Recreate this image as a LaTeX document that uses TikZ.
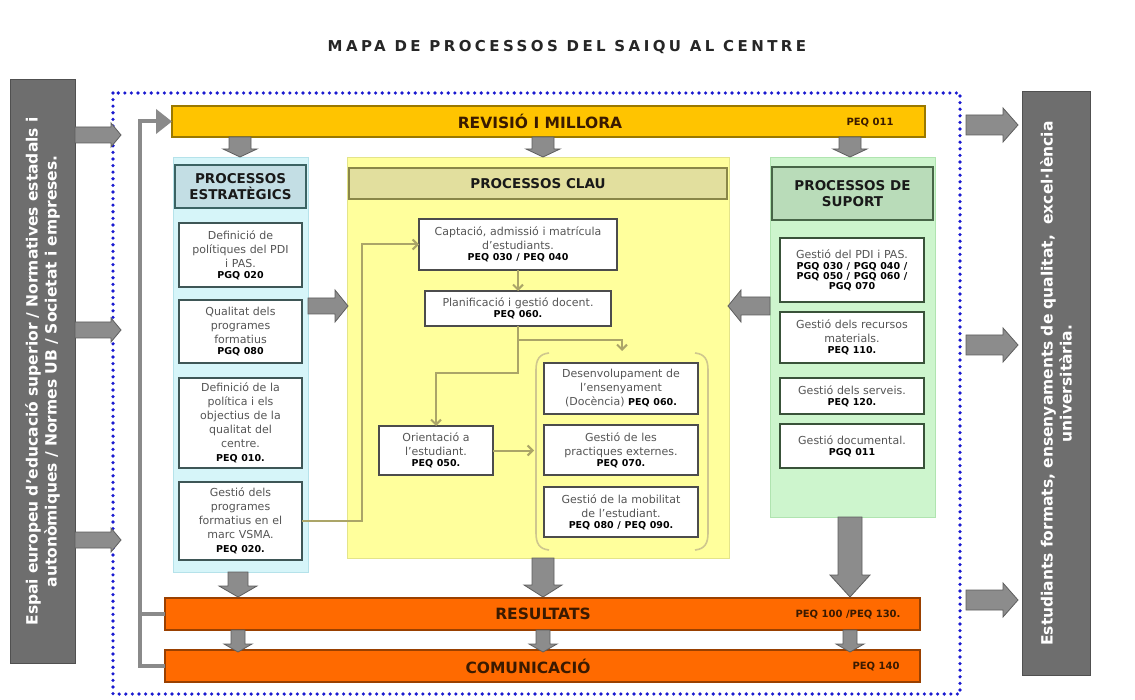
\documentclass[tikz,border=0pt]{standalone}
\usepackage{fontspec}
\setmainfont{DejaVu Sans}
\newfontfamily\titlefont[LetterSpace=23]{DejaVu Sans}
\usetikzlibrary{arrows.meta}
\definecolor{framblue}{HTML}{1A1AD0}
\definecolor{sidegray}{HTML}{6E6E6E}
\definecolor{sidedark}{HTML}{505050}
\definecolor{arrgray}{HTML}{8C8C8C}
\definecolor{arrdark}{HTML}{5E5E5E}
\definecolor{revfill}{HTML}{FFC400}
\definecolor{revdraw}{HTML}{9A7800}
\definecolor{resfill}{HTML}{FF6A00}
\definecolor{resdraw}{HTML}{9A4000}
\definecolor{bartext}{HTML}{3A1A00}
\definecolor{stratbg}{HTML}{D6F5F9}
\definecolor{stratbgd}{HTML}{B5E2EA}
\definecolor{strathd}{HTML}{C3DEE4}
\definecolor{stratdr}{HTML}{3B6363}
\definecolor{claubg}{HTML}{FFFF9C}
\definecolor{claubgd}{HTML}{E4E48A}
\definecolor{clauhd}{HTML}{E2DF9E}
\definecolor{claudr}{HTML}{8A8748}
\definecolor{supbg}{HTML}{CDF5CD}
\definecolor{supbgd}{HTML}{B0E4B0}
\definecolor{suphd}{HTML}{B9DCB9}
\definecolor{supdr}{HTML}{476647}
\definecolor{boxdr}{HTML}{3E5656}
\definecolor{boxtext}{HTML}{555555}
\definecolor{connol}{HTML}{ABA568}
\definecolor{brkol}{HTML}{CFC78E}
\definecolor{fbgray}{HTML}{8A8A8A}
\newcommand\pc[1]{{\fontsize{9.5}{11}\selectfont\bfseries\color{black}#1}}
% horizontal block arrow: x, y, length (signed), body half, head half, head length (signed)
\newcommand\hblk[6]{\filldraw[garr] (#1,#2) ++(0,-#4) -- ++({(#3)-(#6)},0) -- ++(0,{-(#5-#4)}) -- ++(#6,#5) -- ++({-(#6)},#5) -- ++(0,{-(#5-#4)}) -- ++({(#6)-(#3)},0) -- cycle;}
% vertical block arrow (downwards): x, y, length, body half, head half, head length
\newcommand\vblk[6]{\filldraw[garr] (#1,#2) ++(-#4,0) -- ++(0,{(#3)-(#6)}) -- ++({-(#5-#4)},0) -- ++(#5,#6) -- ++(#5,{-(#6)}) -- ++({-(#5-#4)},0) -- ++(0,{(#6)-(#3)}) -- cycle;}
\begin{document}
\begin{tikzpicture}[x=1pt,y=-1pt,
  garr/.style={fill=arrgray,draw=arrdark,line width=0.8pt},
  sidebar/.style={fill=sidegray,draw=sidedark,line width=1pt,text=white,font=\fontsize{15.5}{19}\selectfont\bfseries,align=center,inner sep=0pt,outer sep=0pt},
  revbar/.style={fill=revfill,draw=revdraw,line width=1.2pt,inner sep=0pt,outer sep=0pt},
  resbar/.style={fill=resfill,draw=resdraw,line width=1.2pt,inner sep=0pt,outer sep=0pt},
  barlbl/.style={text=bartext,font=\fontsize{15.5}{17}\selectfont\bfseries,inner sep=0pt},
  barcode/.style={text=bartext,font=\fontsize{10}{12}\selectfont\bfseries,inner sep=0pt},
  colbg/.style={line width=0.8pt,inner sep=0pt,outer sep=0pt},
  hdr/.style={line width=1.6pt,align=center,text=black!90,font=\fontsize{13.5}{16}\selectfont\bfseries,inner sep=0pt,outer sep=0pt},
  pbox/.style={fill=white,draw=boxdr,line width=1.4pt,align=center,text=boxtext,font=\fontsize{11}{14}\selectfont,inner sep=0pt,outer sep=0pt},
  conn/.style={draw=connol,line width=2pt},
  conntip/.style={conn,-{Straight Barb[length=5pt,width=10pt]}},
  brk/.style={draw=brkol,line width=1.6pt},
  fb/.style={draw=fbgray,line width=4pt},
  frame/.style={draw=framblue,line width=3.6pt,dash pattern=on 0pt off 6.6pt,line cap=round}
]
\useasboundingbox (0,0) rectangle (1135,700);

% title
\node[font=\titlefont\fontsize{15}{18}\selectfont\bfseries,text=black!85,inner sep=0pt] (title) at (567,47) {MAPA DE PROCESSOS DEL SAIQU AL CENTRE};

% dotted frame
\draw[frame] (113,93) rectangle (960,694);

% side bars
\node[sidebar,rotate=90,minimum width=583,minimum height=65,text width=575] (lbar) at (42.5,371.5)
  {Espai europeu d'educació superior / Normatives estadals i\\autonòmiques / Normes UB / Societat i empreses.};
\node[sidebar,rotate=90,minimum width=583,minimum height=68,text width=575] (rbar) at (1056,383.5)
  {Estudiants formats, ensenyaments de qualitat,\ \ excel·lència\\universitària.};

% column backgrounds
\node[colbg,fill=stratbg,draw=stratbgd,minimum width=135,minimum height=415] (stratbg) at (240.5,364.5) {};
\node[colbg,fill=claubg,draw=claubgd,minimum width=382,minimum height=401] (claubg) at (538,357.5) {};
\node[colbg,fill=supbg,draw=supbgd,minimum width=165,minimum height=360] (supbg) at (852.5,337) {};

% headers
\node[hdr,fill=strathd,draw=stratdr,minimum width=131,minimum height=43] (strathdr) at (240.5,186.5) {PROCESSOS\\ESTRATÈGICS};
\node[hdr,fill=clauhd,draw=claudr,minimum width=378,minimum height=31] (clauhdr) at (538,183.5) {PROCESSOS CLAU};
\node[hdr,fill=suphd,draw=supdr,minimum width=161,minimum height=53] (suphdr) at (852.5,193.5) {PROCESSOS DE\\SUPORT};

% strategic boxes
\node[pbox,minimum width=123,minimum height=64,text width=120] (s1) at (240.5,255)
  {Definició de\\polítiques del PDI\\i PAS.\\[-3pt]\pc{PGQ 020}};
\node[pbox,minimum width=123,minimum height=63,text width=120] (s2) at (240.5,331.5)
  {Qualitat dels\\programes\\formatius\\[-3pt]\pc{PGQ 080}};
\node[pbox,minimum width=123,minimum height=90,text width=120] (s3) at (240.5,423)
  {Definició de la\\política i els\\objectius de la\\qualitat del\\centre.\\\pc{PEQ 010.}};
\node[pbox,minimum width=123,minimum height=78,text width=120] (s4) at (240.5,521)
  {Gestió dels\\programes\\formatius en el\\marc VSMA.\\\pc{PEQ 020.}};

% key process boxes
\node[pbox,draw=black!70,minimum width=198,minimum height=51,text width=194] (capt) at (518,244.5)
  {Captació, admissió i matrícula\\d'estudiants.\\[-3pt]\pc{PEQ 030 / PEQ 040}};
\node[pbox,draw=black!70,minimum width=186,minimum height=35,text width=182] (plan) at (518,308.5)
  {Planificació i gestió docent.\\[-3pt]\pc{PEQ 060.}};
\node[pbox,draw=black!70,minimum width=154,minimum height=51,text width=150] (dev) at (621,388.5)
  {Desenvolupament de\\l'ensenyament\\(Docència) \pc{PEQ 060.}};
\node[pbox,draw=black!70,minimum width=154,minimum height=50,text width=150] (prac) at (621,450)
  {Gestió de les\\practiques externes.\\[-3pt]\pc{PEQ 070.}};
\node[pbox,draw=black!70,minimum width=154,minimum height=50,text width=150] (mob) at (621,512)
  {Gestió de la mobilitat\\de l'estudiant.\\[-3pt]\pc{PEQ 080 / PEQ 090.}};
\node[pbox,draw=black!70,minimum width=114,minimum height=49,text width=110] (orient) at (436,450.5)
  {Orientació a\\l'estudiant.\\[-3pt]\pc{PEQ 050.}};

% support boxes
\node[pbox,draw=supdr!80!black,minimum width=144,minimum height=64,text width=140] (p1) at (852,270)
  {Gestió del PDI i PAS.\\[-3pt]\pc{PGQ 030 / PGQ 040 /}\\[-4pt]\pc{PGQ 050 / PGQ 060 /}\\[-4pt]\pc{PGQ 070}};
\node[pbox,draw=supdr!80!black,minimum width=144,minimum height=51,text width=140] (p2) at (852,337.5)
  {Gestió dels recursos\\materials.\\[-3pt]\pc{PEQ 110.}};
\node[pbox,draw=supdr!80!black,minimum width=144,minimum height=36,text width=140] (p3) at (852,396)
  {Gestió dels serveis.\\[-3pt]\pc{PEQ 120.}};
\node[pbox,draw=supdr!80!black,minimum width=144,minimum height=44,text width=140] (p4) at (852,446)
  {Gestió documental.\\[-3pt]\pc{PGQ 011}};

% horizontal bars
\node[revbar,minimum width=753,minimum height=31] (rev) at (548.5,121.5) {};
\node[barlbl] (revlbl) at (540,121.5) {REVISIÓ I MILLORA};
\node[barcode] (revcode) at (870,123) {PEQ 011};
\node[resbar,minimum width=755,minimum height=32] (res) at (542.5,614) {};
\node[barlbl] (reslbl) at (543,614) {RESULTATS};
\node[barcode] (rescode) at (848,615) {PEQ 100 /PEQ 130.};
\node[resbar,minimum width=755,minimum height=32] (com) at (542.5,666) {};
\node[barlbl] (comlbl) at (528,666) {COMUNICACIÓ};
\node[barcode] (comcode) at (876,667) {PEQ 140};

% feedback line on the left
\coordinate (fbx) at (140,0);
\draw[fb,-{Triangle[width=24pt,length=16pt]}] (com.west) -- (com.west -| fbx) |- (rev.west);
\draw[fb] (res.west) -- (res.west -| fbx);

% block arrows: environment -> frame
\hblk{75}{135}{46}{8}{12}{10}
\hblk{75}{330}{46}{8}{12}{10}
\hblk{75}{540}{46}{8}{12}{10}
% frame -> outcomes
\hblk{966}{125}{52}{10}{17}{15}
\hblk{966}{345}{52}{10}{17}{15}
\hblk{966}{600}{52}{10}{17}{15}
% revisio -> columns
\vblk{240}{137}{20}{11}{17}{8}
\vblk{543}{137}{20}{11}{17}{8}
\vblk{850}{137}{20}{11}{17}{8}
% strategic / support -> key
\hblk{308}{306}{40}{8}{16}{13}
\hblk{770}{306}{-42}{9}{16}{-13}
% columns -> resultats
\vblk{238}{572}{25}{10}{19}{11}
\vblk{543}{558}{39}{11}{19}{12}
\vblk{850}{517}{80}{12}{20}{22}
% resultats -> comunicacio
\vblk{238}{630}{22}{7}{14}{8}
\vblk{543}{630}{22}{7}{14}{8}
\vblk{850}{630}{22}{7}{14}{8}

% brackets around the teaching group
\draw[brk] (549,353) .. controls (539,354) and (536,360) .. (536,370) -- (536,533) .. controls (536,543) and (539,549) .. (549,550);
\draw[brk] (695,353) .. controls (705,354) and (708,360) .. (708,370) -- (708,533) .. controls (708,543) and (705,549) .. (695,550);
\coordinate (brktop) at (622,351);
\coordinate (brkleft) at (534,448);

% connectors inside key processes
\draw[conntip] (s4.east) -- ++(60,0) |- (capt.west);
\draw[conntip] (capt.south) -- (plan.north);
\draw[conntip] (plan.south) -- ++(0,14) -| (brktop);
\draw[conntip] (plan.south) -- ++(0,47) -| (orient.north);
\draw[conntip] (orient.east) -- (orient.east -| brkleft);
\end{tikzpicture}
\end{document}
